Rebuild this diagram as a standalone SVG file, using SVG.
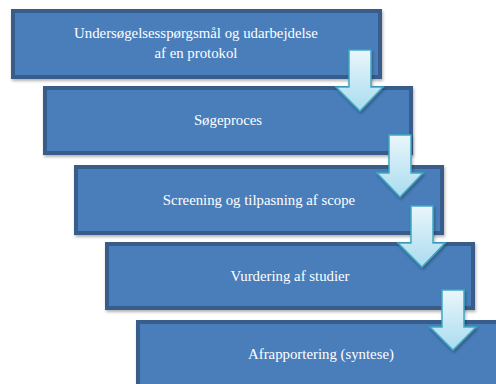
<svg xmlns="http://www.w3.org/2000/svg" width="496" height="384" viewBox="0 0 496 384">
<defs>
<linearGradient id="ag" x1="0" y1="0" x2="0" y2="1">
<stop offset="0" stop-color="#EAF6FB"/>
<stop offset="1" stop-color="#A9DCEF"/>
</linearGradient>
<filter id="sh" x="-10%" y="-10%" width="130%" height="130%">
<feDropShadow dx="1" dy="2" stdDeviation="1.5" flood-color="#000" flood-opacity="0.3"/>
</filter>
</defs>
<style>
.box{fill:#4A7EBB;stroke:#385D8A;stroke-width:4;filter:url(#sh)}
.t{font-family:"Liberation Serif","DejaVu Serif",serif;font-size:14.8px;fill:#FFFFFF;text-anchor:middle}
.arr{fill:url(#ag);stroke:#3FA9C4;stroke-width:1.5;stroke-linejoin:miter;filter:url(#sh)}
</style>
<rect width="496" height="384" fill="#FFFFFF"/>
<g id="n1"><rect class="box" x="13" y="11" width="367" height="66"/><text class="t" x="196" y="38">Undersøgelsesspørgsmål og udarbejdelse</text><text class="t" x="196" y="58">af en protokol</text></g>
<g id="n2"><rect class="box" x="45" y="88" width="366" height="65"/><text class="t" x="228" y="125">Søgeproces</text></g>
<g id="n3"><rect class="box" x="76" y="167" width="366" height="66"/><text class="t" x="259" y="205">Screening og tilpasning af scope</text></g>
<g id="n4"><rect class="box" x="107" y="244" width="366" height="64"/><text class="t" x="290" y="281">Vurdering af studier</text></g>
<g id="n5"><rect class="box" x="138" y="322" width="368" height="70"/><text class="t" x="321" y="359">Afrapportering (syntese)</text></g>
<g id="connectors">
<path class="arr" d="M349,50 H371 V87 H383 L360,111 L336,87 H349 Z"/>
<path class="arr" d="M389,135 H411 V173 H423 L400,197 L377,173 H389 Z"/>
<path class="arr" d="M411,206 H433 V243 H445 L422,267 L398,243 H411 Z"/>
<path class="arr" d="M442,290 H464 V327 H476 L453,350 L430,327 H442 Z"/>
</g>
</svg>
